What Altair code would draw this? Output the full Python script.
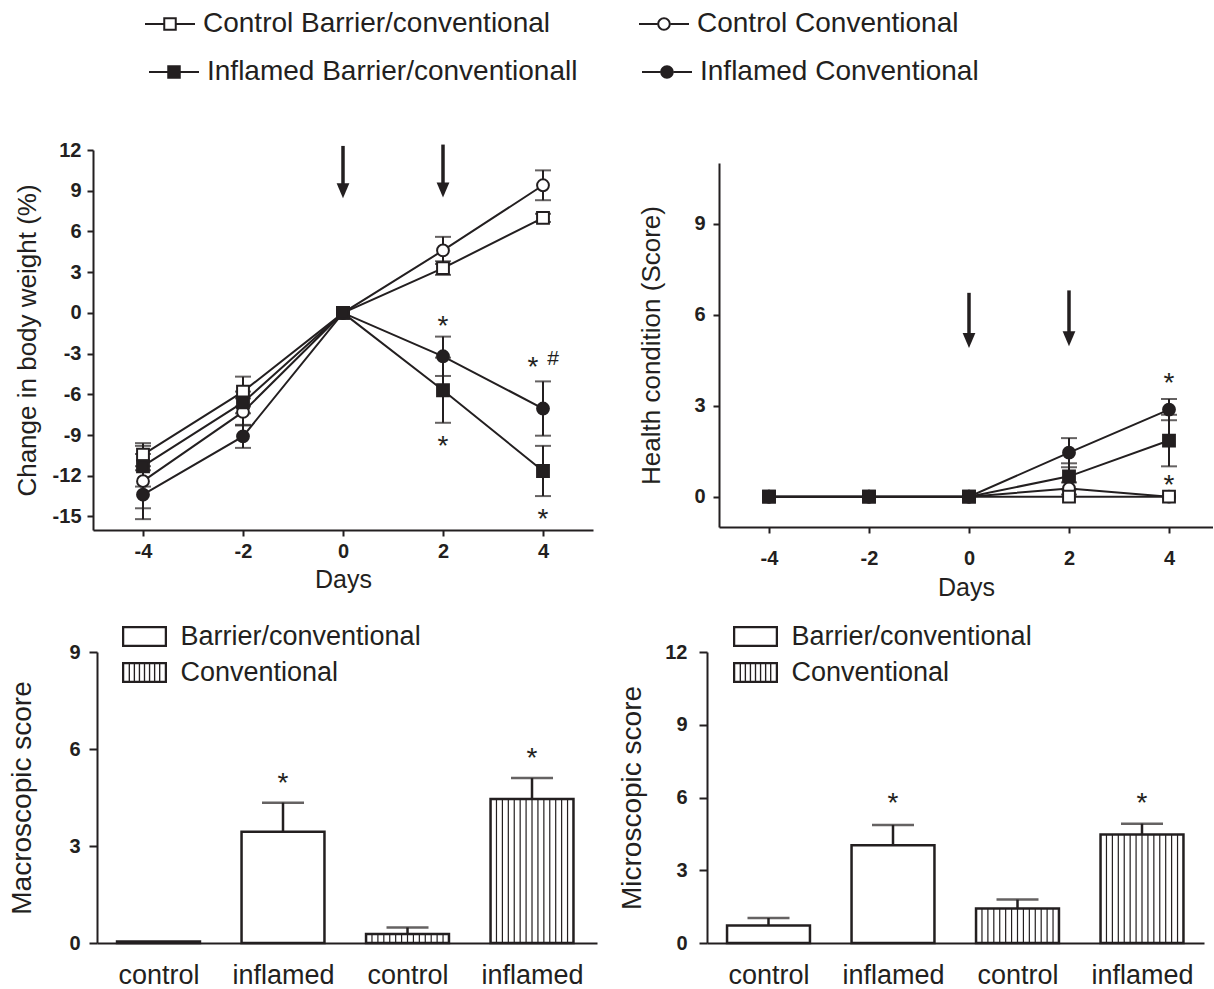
import altair as alt
import pandas as pd

INK = "#231f20"
FONT = "Liberation Sans"

# ---------------- data ----------------
days = [-4, -2, 0, 2, 4]
series_names = ["Control Barrier/conventional", "Control Conventional",
                "Inflamed Barrier/conventionall", "Inflamed Conventional"]
series_marker = ["square", "circle", "square", "circle"]
series_fill = ["white", "white", INK, INK]
draw_order = [1, 0, 3, 2]

weight_cb = [-10.45, -5.8, 0.0, 3.3, 7.0]
weight_cb_err = [0.85, 1.1, 0.0, 0.5, 0.3]
weight_cc = [-12.4, -7.3, 0.0, 4.6, 9.4]
weight_cc_err = [2.0, 1.0, 0.0, 1.0, 1.1]
weight_ib = [-11.3, -6.6, 0.0, -5.7, -11.65]
weight_ib_err = [1.5, 0.8, 0.0, 2.4, 1.85]
weight_ic = [-13.4, -9.1, 0.0, -3.2, -7.05]
weight_ic_err = [1.8, 0.85, 0.0, 1.45, 2.0]

health_cb = [0.0, 0.0, 0.0, 0.0, 0.0]
health_cb_err = [0.0, 0.0, 0.0, 0.0, 0.0]
health_cc = [0.0, 0.0, 0.0, 0.27, 0.0]
health_cc_err = [0.0, 0.0, 0.0, 0.2, 0.0]
health_ib = [0.0, 0.0, 0.0, 0.67, 1.85]
health_ib_err = [0.0, 0.0, 0.0, 0.43, 0.85]
health_ic = [0.0, 0.0, 0.0, 1.45, 2.87]
health_ic_err = [0.0, 0.0, 0.0, 0.48, 0.35]

bar_labels = ["control", "inflamed", "control", "inflamed"]
bar_housing = ["Barrier/conventional", "Barrier/conventional", "Conventional", "Conventional"]
macro_score = [0.05, 3.44, 0.28, 4.45]
macro_err = [0.0, 0.9, 0.2, 0.65]
micro_score = [0.72, 4.03, 1.42, 4.47]
micro_err = [0.31, 0.84, 0.37, 0.45]

weight_arrow_day = [0, 2]
weight_arrow_top = [12.3, 12.4]
weight_arrow_tip = [8.45, 8.5]
health_arrow_day = [0, 2]
health_arrow_top = [6.72, 6.8]
health_arrow_tip = [4.9, 4.96]

weight_star_day = [2, 2, 3.8, 4]
weight_star_y = [-0.42, -9.26, -3.49, -14.67]
weight_hash_day = [4.2]
weight_hash_y = [-3.32]
health_star_day = [4, 4]
health_star_y = [3.99, 0.63]
macro_star_idx = [1, 3]
macro_star_y = [5.17, 5.95]
micro_star_idx = [1, 3]
micro_star_y = [6.08, 6.06]

# ---------------- symbols (fill-only paths, unit box -1..1) ----------------
LEG_LINES = "M-1,-0.04L-0.27,-0.04L-0.27,0.04L-1,0.04ZM0.27,-0.04L1,-0.04L1,0.04L0.27,0.04Z"
SQ_OUT = "M-0.27,-0.27L0.27,-0.27L0.27,0.27L-0.27,0.27Z"
SQ_HOLE = "M-0.19,-0.19L-0.19,0.19L0.19,0.19L0.19,-0.19Z"
CI_OUT = "M-0.27,0A0.27,0.27,0,1,1,0.27,0A0.27,0.27,0,1,1,-0.27,0Z"
CI_HOLE = "M-0.19,0A0.19,0.19,0,1,0,0.19,0A0.19,0.19,0,1,0,-0.19,0Z"
LEG_SQ_OPEN = LEG_LINES + SQ_OUT + SQ_HOLE
LEG_CI_OPEN = LEG_LINES + CI_OUT + CI_HOLE
LEG_SQ_FILL = LEG_LINES + SQ_OUT
LEG_CI_FILL = LEG_LINES + CI_OUT

BOX_RING = ("M-1,-0.467L1,-0.467L1,0.467L-1,0.467Z"
            "M-0.9,-0.367L-0.9,0.367L0.9,0.367L0.9,-0.367Z")
STRIPE_BOX = BOX_RING + "".join(
    f"M{v - 0.03:.3f},-0.367L{v + 0.03:.3f},-0.367L{v + 0.03:.3f},0.367L{v - 0.03:.3f},0.367Z"
    for v in [-0.675, -0.45, -0.225, 0.0, 0.225, 0.45, 0.675])
HEAD_PATH = "M-0.85,-2L0.85,-2L0,0Z"
HW = 0.333  # bar half width in category units


def long_frame(values, errors):
    rows = []
    for i in draw_order:
        for d, v, e in zip(days, values[i], errors[i]):
            rows.append({"series": series_names[i], "day": d, "value": v,
                         "lo": v - e, "hi": v + e, "err": e})
    return pd.DataFrame(rows)


weight_df = long_frame([weight_cb, weight_cc, weight_ib, weight_ic],
                       [weight_cb_err, weight_cc_err, weight_ib_err, weight_ic_err])
health_df = long_frame([health_cb, health_cc, health_ib, health_ic],
                       [health_cb_err, health_cc_err, health_ib_err, health_ic_err])


def line_panel(df, xdomain, xrange, width, height, ydomain, yrange, yoffset, yvalues, ytitle,
               title_x, ylab_pad, xlab_pad, xtitle_y, arrows, stars, extra=()):
    if xrange is None:
        xs = alt.Scale(domain=xdomain, nice=False, zero=False)
    else:
        xs = alt.Scale(domain=xdomain, range=xrange, nice=False, zero=False)
    if yrange is None:
        ys = alt.Scale(domain=ydomain, nice=False, zero=False)
    else:
        ys = alt.Scale(domain=ydomain, range=yrange, nice=False, zero=False)
    xa = alt.Axis(values=days, labelExpr="datum.value + ''", tickSize=6,
                  labelPadding=xlab_pad, labelBaseline="middle", title="Days",
                  titleFontSize=25, titleY=xtitle_y, titleBaseline="middle")
    ya = alt.Axis(values=yvalues, labelExpr="datum.value + ''", tickSize=6,
                  labelPadding=ylab_pad, title=ytitle, titleFontSize=26,
                  titleX=title_x, titleBaseline="middle", offset=yoffset)

    def X(f="day"):
        return alt.X(f + ":Q", scale=xs, axis=xa)

    def Y(f):
        return alt.Y(f + ":Q", scale=ys, axis=ya)

    base = alt.Chart(df)
    lines = base.mark_line(color=INK, strokeWidth=2).encode(X(), Y("value"), detail="series:N")
    errs = base.transform_filter("datum.err > 0")
    err_rule = errs.mark_rule(color=INK, strokeWidth=2).encode(X(), Y("lo"), y2="hi:Q")
    err_cap = errs.transform_fold(["lo", "hi"], as_=["end", "bound"]).mark_tick(
        orient="horizontal", size=16, thickness=2, color=INK).encode(X(), Y("bound"))
    markers = base.mark_point(filled=True, size=140, stroke=INK, strokeWidth=2, opacity=1).encode(
        X(), Y("value"),
        shape=alt.Shape("series:N", scale=alt.Scale(domain=series_names, range=series_marker), legend=None),
        fill=alt.Fill("series:N", scale=alt.Scale(domain=series_names, range=series_fill), legend=None),
    )
    shaft = alt.Chart(arrows).mark_rule(color=INK, strokeWidth=3.5, y2Offset=-8).encode(
        X(), Y("top"), y2="tip:Q")
    head = alt.Chart(arrows).mark_point(shape=HEAD_PATH, size=225, filled=True, fill=INK,
                                        strokeWidth=0, opacity=1).encode(X(), Y("tip"))
    star = alt.Chart(stars).mark_text(font=FONT, fontSize=28, color=INK, dy=8).encode(
        X(), Y("y"), text="label:N")
    layers = [lines, err_rule, err_cap, markers, shaft, head, star] + [f(X, Y) for f in extra]
    return alt.layer(*layers).properties(width=width, height=height).resolve_scale(
        shape="independent", fill="independent")


def top_legend(names, paths, lx, ly, colpad):
    def make(X, Y):
        return alt.Chart(weight_df).transform_filter(
            alt.FieldOneOfPredicate(field="series", oneOf=names)
        ).mark_point(filled=True, fill=INK, strokeWidth=0, opacity=0).encode(
            X(), Y("value"),
            shape=alt.Shape("series:N", scale=alt.Scale(domain=names, range=paths),
                            legend=alt.Legend(title=None, orient="none", legendX=lx, legendY=ly,
                                              direction="horizontal", columns=2,
                                              columnPadding=colpad, symbolSize=2500,
                                              symbolStrokeWidth=0, symbolFillColor=INK,
                                              symbolOpacity=1, symbolOffset=0, labelFont=FONT,
                                              labelFontSize=28, labelColor=INK, labelOffset=8,
                                              labelLimit=900, padding=0)),
        )
    return make


def hash_layer(X, Y):
    df = pd.DataFrame({"day": weight_hash_day, "y": weight_hash_y, "label": ["#"] * len(weight_hash_day)})
    return alt.Chart(df).mark_text(font=FONT, fontSize=21, color=INK, dy=1).encode(
        X(), Y("y"), text="label:N")


weight_arrows = pd.DataFrame({"day": weight_arrow_day, "top": weight_arrow_top, "tip": weight_arrow_tip})
health_arrows = pd.DataFrame({"day": health_arrow_day, "top": health_arrow_top, "tip": health_arrow_tip})
weight_stars = pd.DataFrame({"day": weight_star_day, "y": weight_star_y, "label": ["*"] * len(weight_star_day)})
health_stars = pd.DataFrame({"day": health_star_day, "y": health_star_y, "label": ["*"] * len(health_star_day)})

tl = line_panel(weight_df, [-5, 5], None, 500, 380, [-16, 12], None, 0, list(range(-15, 13, 3)),
                "Change in body weight (%)", -66, 6, 15, 49, weight_arrows, weight_stars,
                extra=[top_legend([series_names[0], series_names[1]], [LEG_SQ_OPEN, LEG_CI_OPEN],
                                  52, -151, 88),
                       top_legend([series_names[2], series_names[3]], [LEG_SQ_FILL, LEG_CI_FILL],
                                  56, -103, 64),
                       hash_layer])
tr = line_panel(health_df, [-5, 4.88], [12, 506], 506, 377, [-1, 11], [377, 13], -12, [0, 3, 6, 9],
                "Health condition (Score)", -68, 8, 25, 60, health_arrows, health_stars)

housing_types = list(dict.fromkeys(bar_housing))


def bar_panel(scores, errs, star_idx, star_y, ydomain, yvalues, ytitle, width, xdomain, xrange,
              yoffset, ylab_pad, legend_x, legend_y):
    df = pd.DataFrame({"idx": list(range(len(bar_labels))), "label": bar_labels,
                       "housing": bar_housing, "score": scores, "err": errs})
    if xrange is None:
        xs = alt.Scale(domain=xdomain, nice=False, zero=False)
    else:
        xs = alt.Scale(domain=xdomain, range=xrange, nice=False, zero=False)
    label_expr = "[" + ",".join(f"'{l}'" for l in bar_labels) + "][datum.value]"
    xa = alt.Axis(values=list(range(len(bar_labels))), labelExpr=label_expr, ticks=False, tickSize=0,
                  labelPadding=40, labelBaseline="alphabetic", labelFontSize=27,
                  labelFontWeight="normal", title=None)
    ys = alt.Scale(domain=ydomain, nice=False, zero=False)
    ya = alt.Axis(values=yvalues, labelExpr="datum.value + ''", tickSize=8, labelPadding=ylab_pad,
                  title=ytitle, titleFontSize=28, titleX=-74.5, titleBaseline="middle",
                  offset=yoffset)

    def X(f):
        return alt.X(f + ":Q", scale=xs, axis=xa)

    def Y(f):
        return alt.Y(f + ":Q", scale=ys, axis=ya)

    base = alt.Chart(df).transform_calculate(
        base="0", x0=f"datum.idx - {HW}", x1=f"datum.idx + {HW}", top="datum.score + datum.err")
    bars = base.mark_rect(fill="white", stroke=INK, strokeWidth=2.5).encode(
        X("x0"), x2="x1:Q", y=Y("base"), y2="score:Q")
    stripes = base.transform_filter(f"datum.housing == '{housing_types[1]}'").transform_calculate(
        k="sequence(1, 14)").transform_flatten(["k"]).transform_calculate(
        sx=f"datum.x0 + datum.k * {2 * HW / 14}").mark_rule(color=INK, strokeWidth=1.2).encode(
        X("sx"), Y("base"), y2="score:Q")
    eb = base.transform_filter("datum.err > 0")
    err_rule = eb.mark_rule(color=INK, strokeWidth=2.5).encode(X("idx"), Y("score"), y2="top:Q")
    err_cap = eb.mark_tick(orient="horizontal", size=42, thickness=2.5, color=INK).encode(
        X("idx"), Y("top"))
    sdf = pd.DataFrame({"idx": star_idx, "y": star_y, "label": ["*"] * len(star_idx)})
    star = alt.Chart(sdf).mark_text(font=FONT, fontSize=28, color=INK, dy=8).encode(
        X("idx"), Y("y"), text="label:N")
    leg = base.mark_point(filled=True, fill=INK, strokeWidth=0, opacity=0).encode(
        X("idx"), Y("score"),
        shape=alt.Shape("housing:N",
                        scale=alt.Scale(domain=housing_types, range=[BOX_RING, STRIPE_BOX]),
                        legend=alt.Legend(title=None, orient="none", legendX=legend_x,
                                          legendY=legend_y, direction="vertical",
                                          symbolSize=2025, symbolStrokeWidth=0,
                                          symbolFillColor=INK, symbolOpacity=1, symbolOffset=0,
                                          labelFont=FONT, labelFontSize=27, labelColor=INK,
                                          labelOffset=13.5, rowPadding=-8.5, labelLimit=900,
                                          padding=0)),
    )
    return alt.layer(bars, stripes, err_rule, err_cap, star, leg).properties(
        width=width, height=291).resolve_scale(shape="independent")


bl = bar_panel(macro_score, macro_err, macro_star_idx, macro_star_y, [0, 9], [0, 3, 6, 9],
               "Macroscopic score", 504, [-0.494, 3.522], [4, 504], -4, 9, 29, -38)
br = bar_panel(micro_score, micro_err, micro_star_idx, micro_star_y, [0, 12], [0, 3, 6, 9, 12],
               "Microscopic score", 497, [-0.494, 3.498], None, 0, 12, 26, -38)

chart = alt.concat(
    tl, tr, bl, br, columns=2, spacing={"row": 122, "column": 110}, bounds="flush", align="each"
).resolve_scale(
    shape="independent", fill="independent"
).properties(
    padding={"left": 8, "top": -1, "right": 0, "bottom": 0},
    background="white",
).configure_view(stroke=None).configure_axis(
    domainColor=INK, domainWidth=2, tickColor=INK, tickWidth=2, labelColor=INK,
    titleColor=INK, labelFont=FONT, titleFont=FONT, labelFontSize=20, labelFontWeight="bold",
    titleFontWeight="normal", grid=False, labelFlush=False, labelOverlap=False, labelBound=False,
)

chart.save("out.html", embed_options={"renderer": "svg", "actions": False})
